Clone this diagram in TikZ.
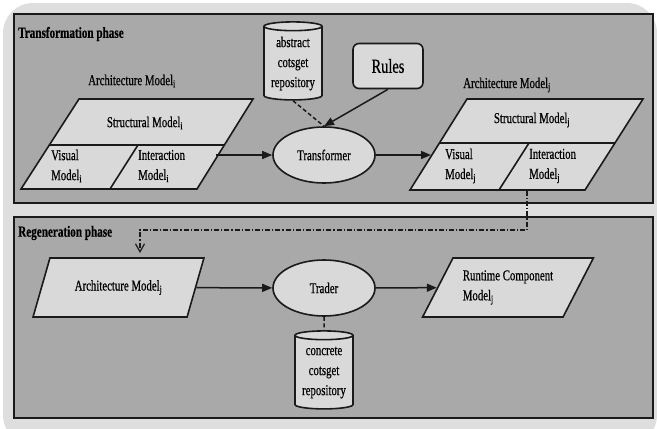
\documentclass[tikz,border=0pt]{standalone}
\usepackage{fontspec}
\setmainfont{Liberation Serif}[FakeStretch=0.72,FakeBold=0.5]
\usetikzlibrary{shapes.geometric,arrows.meta,positioning}
\definecolor{pagegray}{HTML}{DEDEDE}
\definecolor{phasegray}{HTML}{A9A9A9}
\definecolor{boxgray}{HTML}{D9D9D9}
\definecolor{inkgray}{HTML}{1A1A1A}
\newcommand\sub[1]{\textsubscript{#1}}

\begin{document}
\begin{tikzpicture}[x=1pt,y=-1pt,font=\fontsize{15}{20}\selectfont]

\tikzset{phase/.style={fill=phasegray,draw=inkgray,line width=2pt}}
\tikzset{shapefill/.style={fill=boxgray,draw=inkgray,line width=1.6pt}}
\tikzset{txt/.style={inner sep=0pt,align=left}}
\tikzset{title/.style={anchor=west,inner sep=0pt,font=\fontsize{15.5}{18}\selectfont\bfseries}}
\tikzset{process/.style={ellipse,shapefill,minimum width=102pt,minimum height=56pt,inner sep=0pt}}
\tikzset{store/.style={cylinder,shape border rotate=90,aspect=0.2,shapefill,minimum width=58pt,minimum height=78pt,inner sep=0pt,align=center,font=\fontsize{15}{20}\selectfont}}
\tikzset{datum/.style={trapezium,trapezium left angle=54,trapezium right angle=126,trapezium stretches=true,shapefill,minimum width=171pt,minimum height=59pt,inner sep=0pt}}
\tikzset{flow/.style={draw=inkgray,line width=1.5pt,-{Triangle[length=10pt,width=8pt]}}}
\tikzset{link/.style={draw=inkgray,line width=1.5pt,dash pattern=on 4pt off 2.5pt}}
\tikzset{relay/.style={draw=inkgray,line width=1.2pt,dash pattern=on 5pt off 2pt on 1.2pt off 2pt,-{Straight Barb[length=8pt,width=9pt]}}}

\useasboundingbox (0,0) rectangle (657,429);
\fill[white] (0,0) rectangle (657,429);
\fill[pagegray,rounded corners=30pt] (3,3) rectangle (657,445);

\draw[phase] (14,14) rectangle (653,203);
\draw[phase] (14,217) rectangle (653,418);
\node[title] (trans-title) at (18,34) {Transformation phase};
\node[title] (regen-title) at (18,233) {Regeneration phase};

\draw[shapefill] (79,99) -- (253,99) -- (197,189) -- (21,189) -- cycle;
\draw[shapefill] (49,145) -- (224,145) (138,145) -- (110,189);
\node[txt] (arch-i) at (132,81) {Architecture Model\sub{i}};
\node[txt] (struct-i) at (145,123) {Structural Model\sub{i}};
\node[txt,anchor=west] (visual-i) at (51,166) {Visual\\Model\sub{i}};
\node[txt,anchor=west] (inter-i) at (138,166) {Interaction\\Model\sub{i}};

\draw[shapefill] (467,99) -- (643,99) -- (585,190) -- (410,190) -- cycle;
\draw[shapefill] (439,143) -- (615,143) (529,143) -- (499,190);
\node[txt] (arch-j) at (507,85) {Architecture Model\sub{j}};
\node[txt] (struct-j) at (532,120) {Structural Model\sub{j}};
\node[txt,anchor=west] (visual-j) at (445,166) {Visual\\Model\sub{j}};
\node[txt,anchor=west] (inter-j) at (529,166) {Interaction\\Model\sub{j}};

\node[process] (transformer) at (324,155) {Transformer};
\node[draw=inkgray,fill=boxgray,line width=1.6pt,rounded corners=6pt,minimum width=70pt,minimum height=45pt,font=\fontsize{20}{24}\selectfont] (rules) at (388,66) {Rules};
\node[store] (abstract) at (293,63.5) {abstract\\cotsget\\repository};

\node[datum] (model-j) at (118.5,287.5) {Architecture Model\sub{j}};
\node[process] (trader) at (324,288) {Trader};
\node[datum,align=left] (runtime) at (508,287.5) {Runtime Component\\Model\sub{j}};
\node[store] (concrete) at (324,372.5) {concrete\\cotsget\\repository};

\coordinate (out-i) at (216,155);
\coordinate (in-j) at (431,155);
\coordinate (foot-j) at (527,191);
\coordinate (bend) at (140,230);
\coordinate (drop) at (140,253);

\draw[flow] (out-i) -- (transformer);
\draw[flow] (transformer) -- (in-j);
\draw[link] (abstract.south) -- (transformer.north);
\draw[flow] (rules.south) -- (transformer.north);
\draw[relay] (foot-j) |- (bend) -- (drop);
\draw[flow] (model-j) -- (trader);
\draw[flow] (trader) -- (runtime);
\draw[link] (trader) -- (concrete);

\end{tikzpicture}
\end{document}
